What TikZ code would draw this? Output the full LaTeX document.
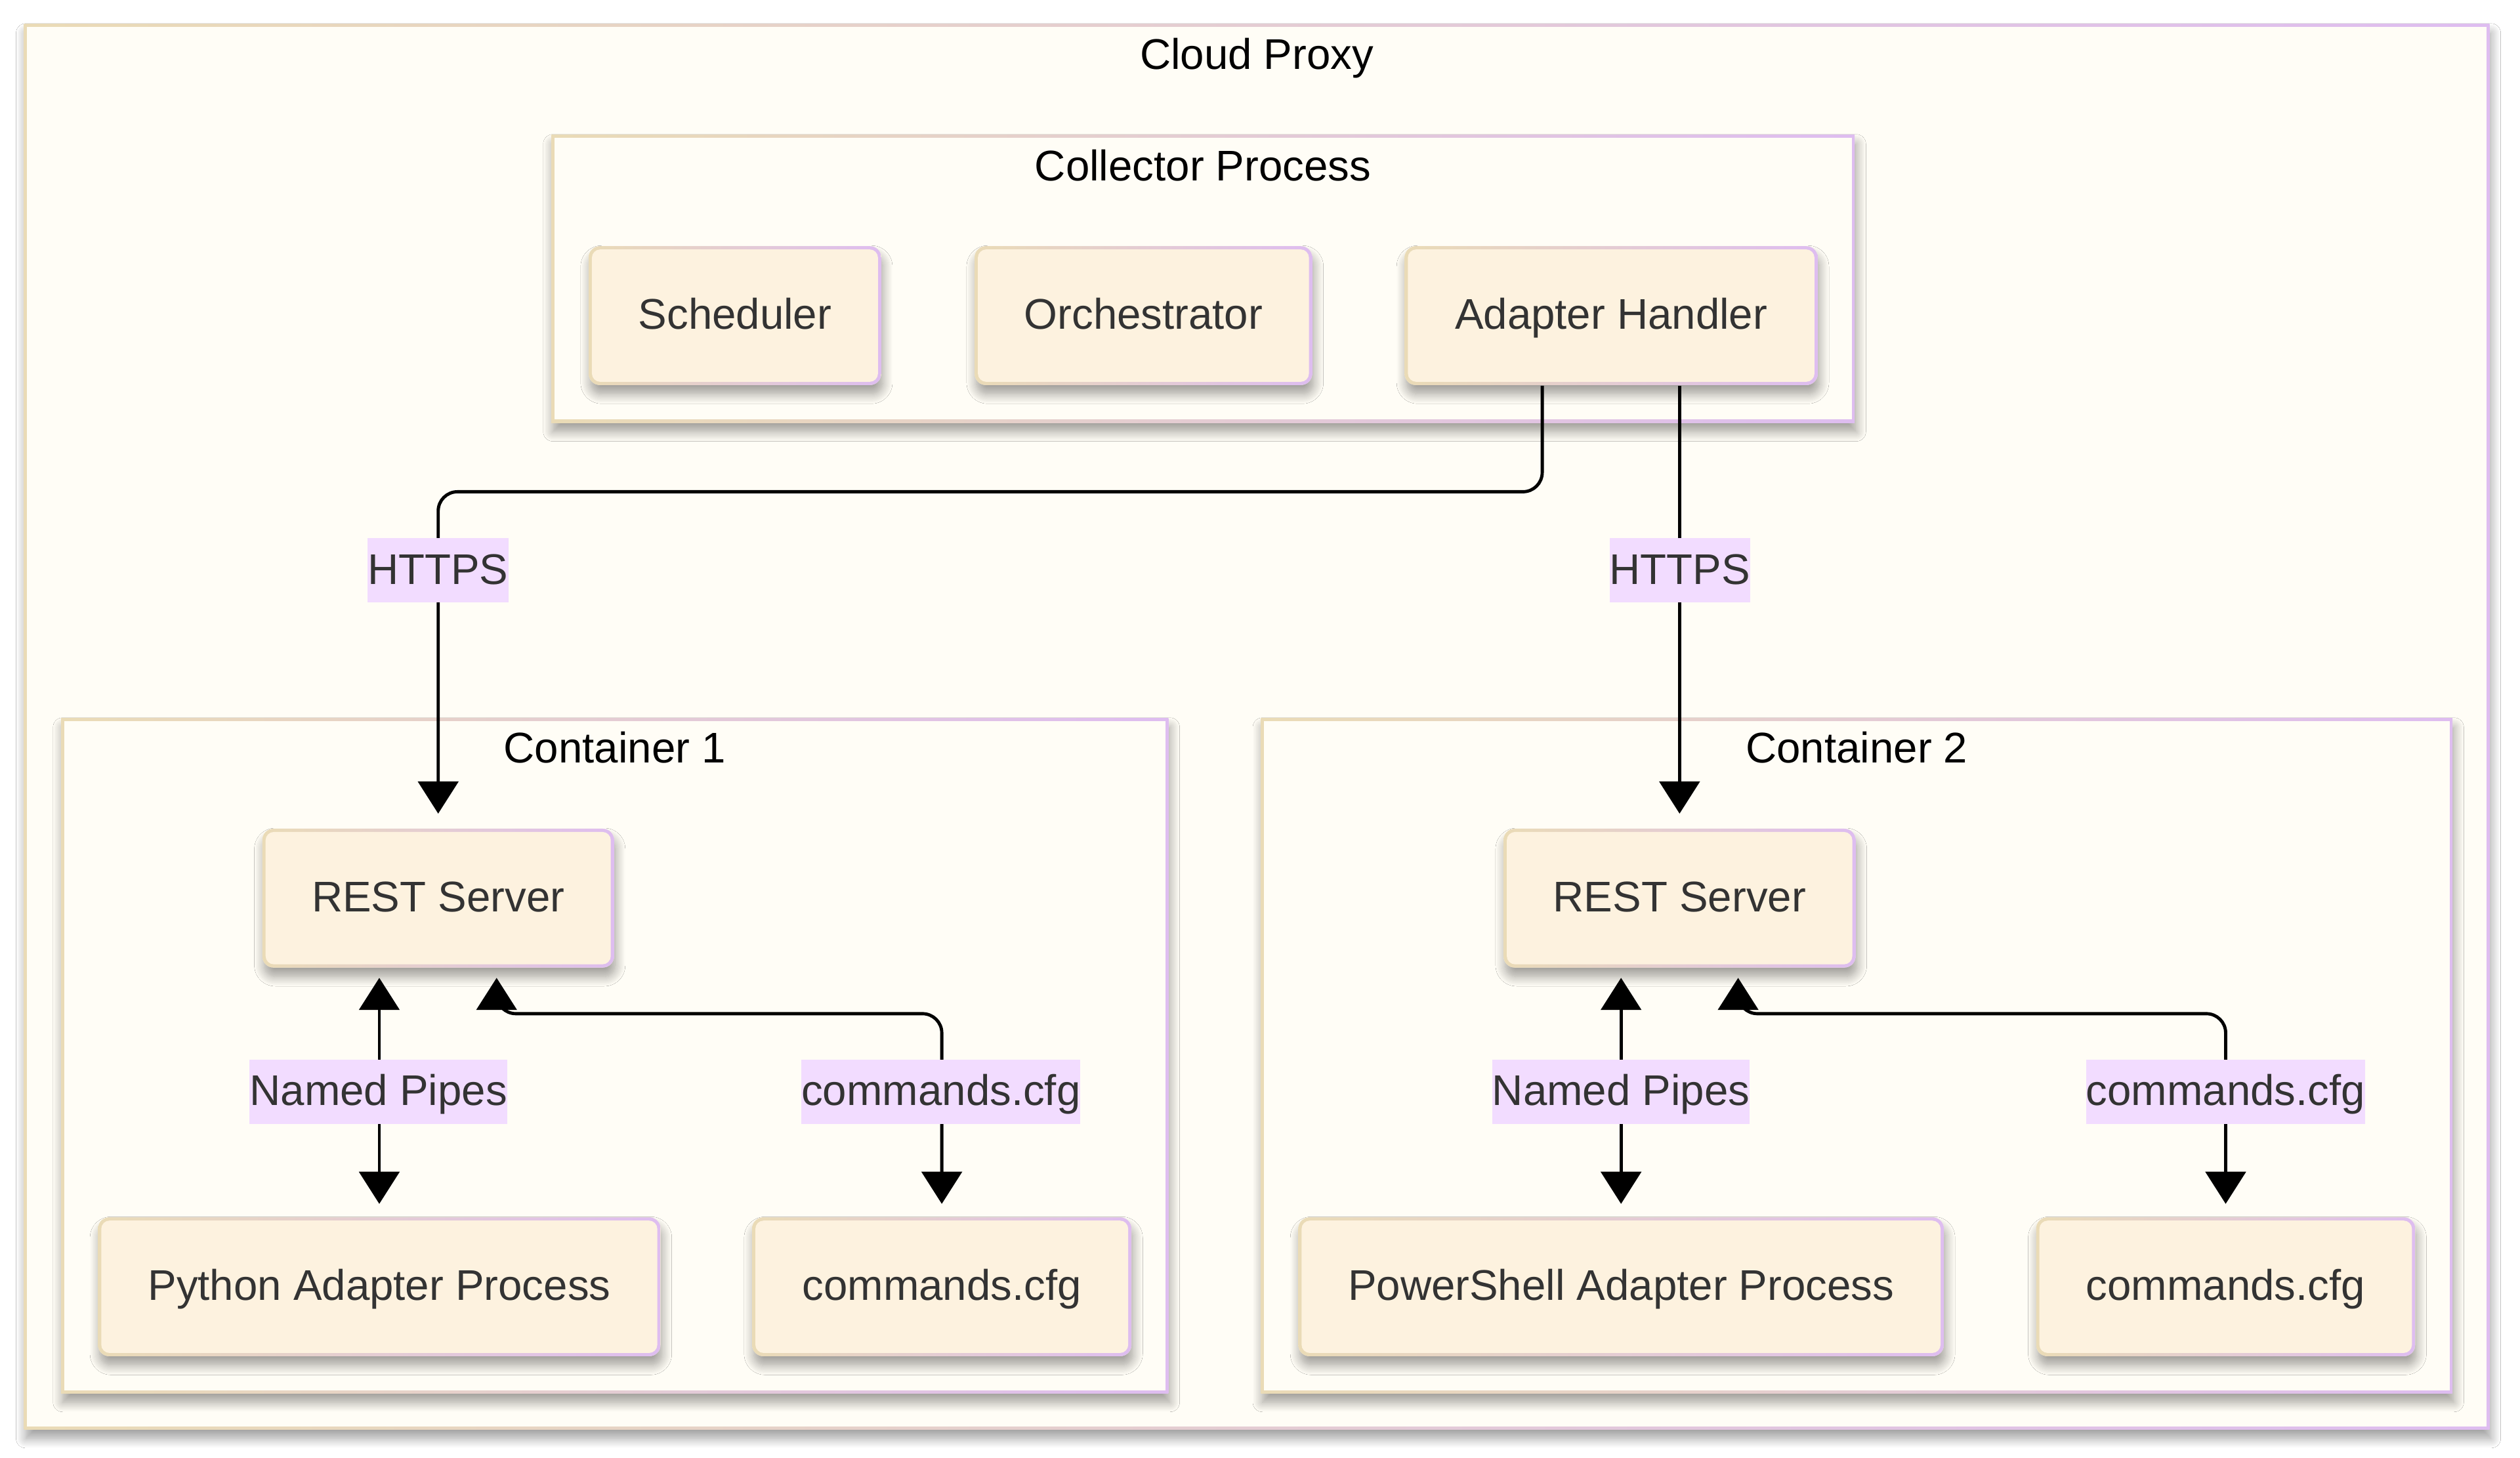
\documentclass[tikz,border=0pt]{standalone}
\usepackage{fontspec}
\setmainfont{Liberation Sans}
\usetikzlibrary{arrows.meta,fit,shadows,shadows.blur}
\definecolor{nodefill}{HTML}{FDF2DF}
\definecolor{clfill}{HTML}{FFFDF6}
\definecolor{bordL}{HTML}{EADBB6}
\definecolor{bordR}{HTML}{DEBDF0}
\definecolor{lblfill}{HTML}{F2DCFF}
\definecolor{txt}{HTML}{333333}
\tikzset{
  every node/.style={font=\fontsize{13.35pt}{16pt}\selectfont, text height=1.1em, text depth=0.25em},
  softshadow/.style={blur shadow={shadow blur steps=14, shadow xshift=0.5pt, shadow yshift=-2.8pt, shadow blur radius=3pt, shadow opacity=38}},
  box/.style={rounded corners=3.5pt, inner sep=0pt, text=txt, softshadow, fill=nodefill, minimum height=43.2pt,
    path picture={
      \shade[left color=bordL,right color=bordR,sharp corners] (path picture bounding box.south west) rectangle (path picture bounding box.north east);
      \fill[nodefill,rounded corners=2.6pt] ([shift={(1pt,1pt)}]path picture bounding box.south west) rectangle ([shift={(-1pt,-1pt)}]path picture bounding box.north east);}},
  clust/.style={inner sep=0pt, softshadow, fill=clfill,
    path picture={
      \shade[left color=bordL,right color=bordR] (path picture bounding box.south west) rectangle (path picture bounding box.north east);
      \fill[clfill] ([shift={(0.95pt,0.95pt)}]path picture bounding box.south west) rectangle ([shift={(-0.95pt,-0.95pt)}]path picture bounding box.north east);}},
  ctitle/.style={text=black, inner sep=0pt},
  lbl/.style={fill=lblfill, text=txt, inner xsep=0pt, inner ysep=0pt, minimum height=20pt},
  conn/.style={draw=black, line width=1pt, rounded corners=6pt, -{Triangle[length=10pt,width=12.5pt]}},
  bconn/.style={conn, {Triangle[length=10pt,width=12.5pt]}-{Triangle[length=10pt,width=12.5pt]}}
}
\begin{document}
\begin{tikzpicture}[x=0.5pt,y=-0.5pt]
\fill[white] (0,0) rectangle (1568,907.3);
\useasboundingbox (0,0) rectangle (1568,907.3);

% clusters
\node[clust, fit={(15,15) (1549,889.5)}] (cloud) {};
\node[ctitle] (cloudT) at (782,34.7) {Cloud Proxy};
\node[clust, fit={(343,84) (1154,263)}] (coll) {};
\node[ctitle] (collT) at (748.5,104) {Collector Process};
\node[clust, fit={(38,447) (727,867)}] (c1) {};
\node[ctitle] (c1T) at (382.5,466.3) {Container 1};
\node[clust, fit={(784.5,447) (1526,867)}] (c2) {};
\node[ctitle] (c2T) at (1155.3,466.3) {Container 2};

% nodes
\node[box, minimum width=91pt] (sch) at (457.3,196.4) {Scheduler};
\node[box, minimum width=105pt] (orc) at (711.45,196.4) {Orchestrator};
\node[box, minimum width=128.5pt] (ah) at (1002.5,196.4) {Adapter Handler};

\node[box, minimum width=109.4pt] (rest1) at (272.65,558.9) {REST Server};
\node[box, minimum width=175pt] (py) at (236,800.75) {Python Adapter Process};
\node[box, minimum width=118pt] (cmd1) at (586,800.75) {commands.cfg};

\node[box, minimum width=109.5pt] (rest2) at (1045.05,558.9) {REST Server};
\node[box, minimum width=200.8pt] (pw) at (1008.65,800.75) {PowerShell Adapter Process};
\node[box, minimum width=117.9pt] (cmd2) at (1384.85,800.75) {commands.cfg};

% connectors
\draw[conn, shorten >=4.5pt] (ah.south -| 959.6,0) -- (959.6,306) -- (rest1.north |- 0,306) -- (rest1.north);
\draw[conn, shorten >=4.5pt] (rest2.north |- ah.south) -- (rest2.north);

\draw[bconn, shorten <=3pt, shorten >=4pt] (py.north |- rest1.south) -- (py.north);
\draw[bconn, shorten <=4pt, shorten >=3pt] (cmd1.north) [rounded corners=6pt] -- (cmd1.north |- 0,630.8) -- (309,630.8) [sharp corners] -- (rest1.south -| 309,0);

\draw[bconn, shorten <=3pt, shorten >=4pt] (pw.north |- rest2.south) -- (pw.north);
\draw[bconn, shorten <=4pt, shorten >=3pt] (cmd2.north) [rounded corners=6pt] -- (cmd2.north |- 0,630.8) -- (1081.5,630.8) [sharp corners] -- (rest2.south -| 1081.5,0);

% labels
\node[lbl] (l1) at (272.5,355) {HTTPS};
\node[lbl] (l2) at (1045.3,355) {HTTPS};
\node[lbl] (l3) at (235.5,679.5) {Named Pipes};
\node[lbl] (l4) at (585.5,679.5) {commands.cfg};
\node[lbl] (l5) at (1008.6,679.5) {Named Pipes};
\node[lbl] (l6) at (1384.8,679.5) {commands.cfg};
\end{tikzpicture}
\end{document}
